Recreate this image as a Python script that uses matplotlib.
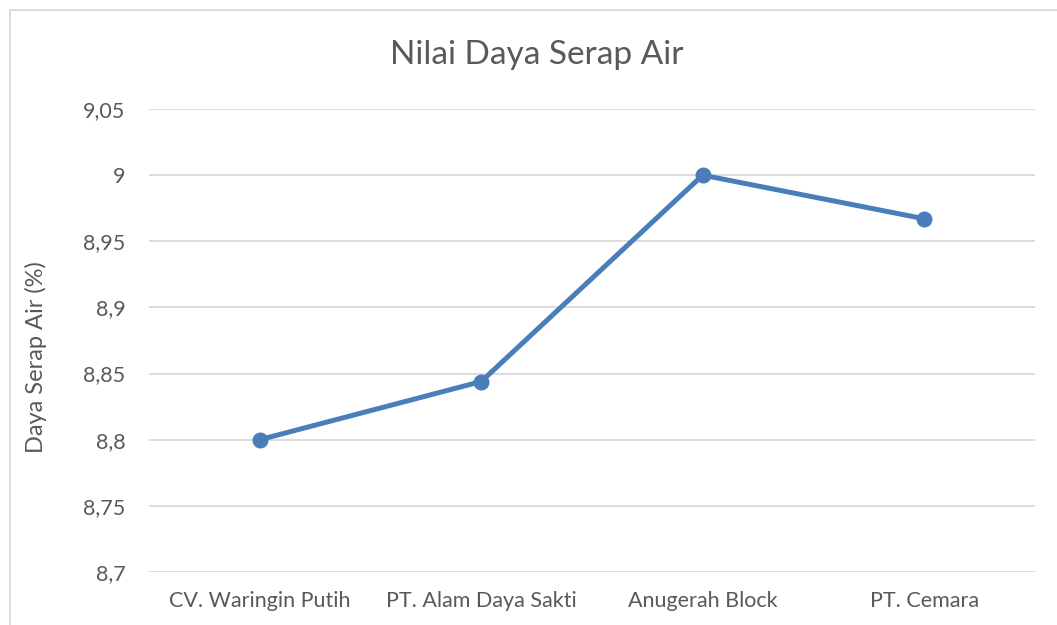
import matplotlib.pyplot as plt
from matplotlib.lines import Line2D

# data
categories = ["CV. Waringin Putih", "PT. Alam Daya Sakti", "Anugerah Block", "PT. Cemara"]
values = [8.80, 8.844, 9.00, 8.967]
yticks = [8.7, 8.75, 8.8, 8.85, 8.9, 8.95, 9.0, 9.05]
ytick_labels = ["8,7", "8,75", "8,8", "8,85", "8,9", "8,95", "9", "9,05"]

plt.rcParams['font.family'] = ['Lato', 'DejaVu Sans']

fig = plt.figure(figsize=(10.57, 6.25), dpi=100)
ax = fig.add_axes([149 / 1057, 1 - 572 / 625, (1035 - 149) / 1057, (572 - 109) / 625])

x = list(range(len(categories)))
ax.plot(x, values, color='#4a7ebb', linewidth=3.6, marker='o', markersize=10.5,
        solid_capstyle='round', zorder=3)

ax.set_xlim(-0.5, len(categories) - 0.5)
ax.set_ylim(8.7, 9.05)
ax.set_yticks(yticks)
ax.set_yticklabels(ytick_labels)
ax.set_xticks(x)
ax.set_xticklabels(categories)
ax.tick_params(axis='both', length=0, labelsize=15.5, colors='#595959')
ax.tick_params(axis='y', pad=17)
ax.tick_params(axis='x', pad=14)
ax.grid(axis='y', color='#d9d9d9', linewidth=1.3)
ax.set_axisbelow(True)
for s in ax.spines.values():
    s.set_visible(False)

ax.set_ylabel('Daya Serap Air (%)', fontsize=17, color='#595959')
ax.yaxis.set_label_coords(-0.115, 0.464)
fig.text(537 / 1057, 1 - 55 / 625, 'Nilai Daya Serap Air', ha='center', va='center',
         fontsize=24, color='#595959')

# chart border (left and top edges visible)
fig.add_artist(Line2D([10 / 1057, 10 / 1057], [0, 1 - 10 / 625], transform=fig.transFigure,
                      color='#d9d9d9', linewidth=1.3))
fig.add_artist(Line2D([10 / 1057, 1], [1 - 10 / 625, 1 - 10 / 625], transform=fig.transFigure,
                      color='#d9d9d9', linewidth=1.3))

fig.savefig('out.png', dpi=100)
